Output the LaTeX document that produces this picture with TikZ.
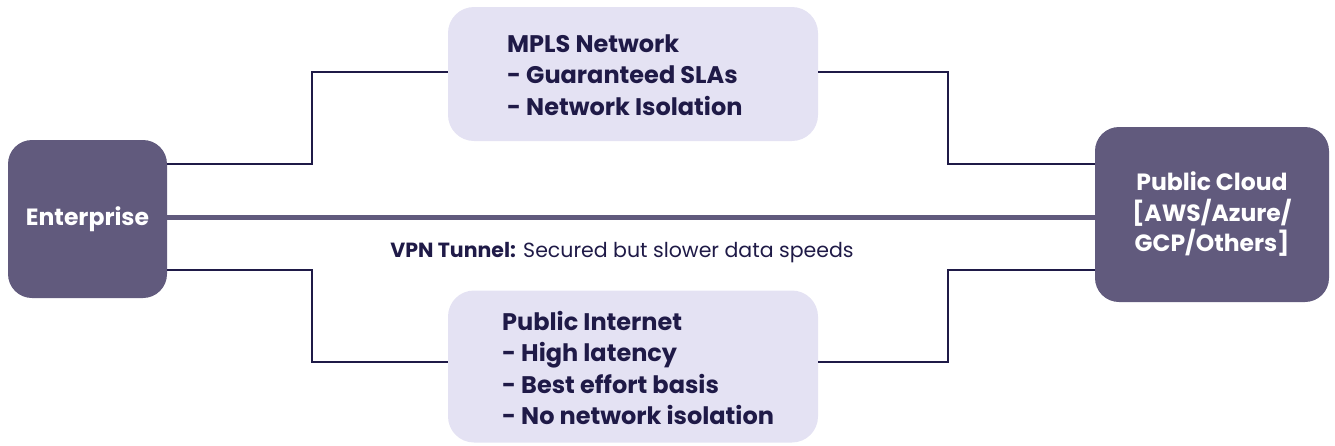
\documentclass[tikz,border=0pt]{standalone}
\usepackage{fontspec}
\setmainfont{Poppins}
\usetikzlibrary{positioning}
\definecolor{hub}{HTML}{615A7D}
\definecolor{panel}{HTML}{E4E2F3}
\definecolor{ink}{HTML}{1F1A47}
\tikzset{
  hubbox/.style={draw=none, fill=hub, rounded corners=24pt, text=white,
    font=\bfseries\fontsize{23.5}{30.5}\selectfont, align=center, inner sep=0pt},
  panelbox/.style={draw=none, fill=panel, rounded corners=26pt, inner sep=0pt,
    minimum width=370pt},
  paneltext/.style={text=ink, font=\bfseries\fontsize{24}{31.3}\selectfont,
    align=left, anchor=west, inner sep=0pt},
  link/.style={draw=ink, line width=2pt},
  tunnel/.style={draw=hub, line width=5pt},
}
\begin{document}
\begin{tikzpicture}[x=1pt,y=-1pt]
\useasboundingbox (0,0) rectangle (1335,445);
% end points
\node[hubbox, minimum width=159pt, minimum height=158pt] (ent) at (87.5,219) {Enterprise};
\node[hubbox, minimum width=234pt, minimum height=175pt] (cloud) at (1212,214.5) {Public Cloud\\{[}AWS/Azure/\\GCP/Others{]}};
% path panels
\node[panelbox, minimum height=134pt] (mpls) at (633,74) {};
\node[paneltext] (mplstext) at (507,75)
  {MPLS Network\\- Guaranteed SLAs\\- Network Isolation};
\node[panelbox, minimum height=152pt] (inet) at (633,366.5) {};
\node[paneltext] (inettext) at (502,368)
  {Public Internet\\- High latency\\- Best effort basis\\- No network isolation};
% connectors
\coordinate (e1) at (167,164);
\coordinate (e2) at (167,270);
\coordinate (c1) at (1095,164);
\coordinate (c2) at (1095,270);
\coordinate (m1) at (448,72);
\coordinate (m2) at (818,72);
\coordinate (i1) at (448,362);
\coordinate (i2) at (818,362);
\draw[link] (e1) -- (312,164) |- (m1);
\draw[link] (m2) -- (948,72) |- (c1);
\draw[link] (e2) -- (312,270) |- (i1);
\draw[link] (i2) -- (948,362) |- (c2);
\coordinate (t1) at (167,217);
\coordinate (t2) at (1095,217);
\draw[tunnel] (t1) -- (t2);
\node[text=ink, font=\fontsize{20.5}{24}\selectfont, inner sep=0pt] (vpn) at (622,253)
  {\textbf{VPN Tunnel:} Secured but slower data speeds};
\end{tikzpicture}
\end{document}
